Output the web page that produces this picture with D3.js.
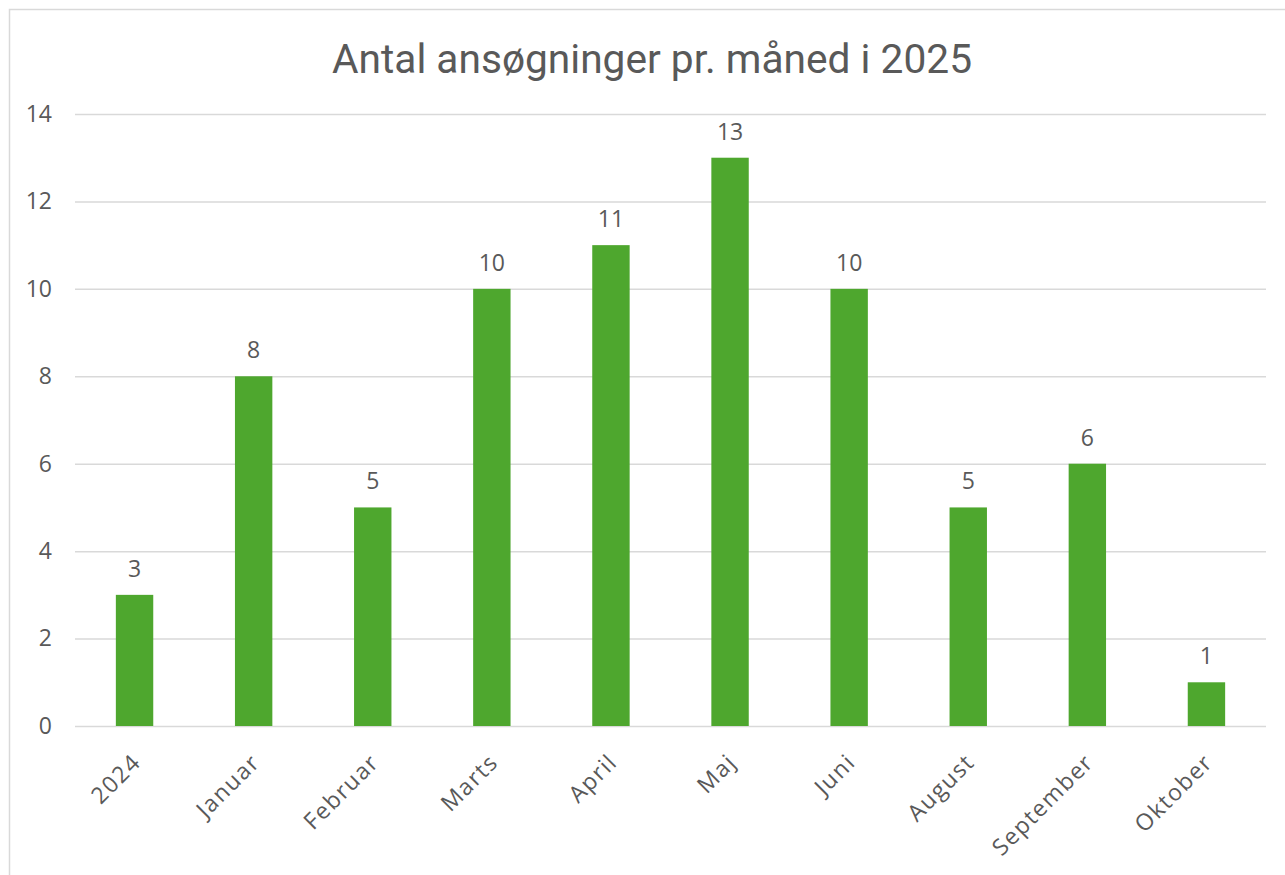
<!DOCTYPE html>
<html>
<head>
<meta charset="utf-8">
<script src="https://cdn.jsdelivr.net/npm/d3@7"></script>
<style>
  body { margin: 0; background: #fff; }
  #chart text { fill: #595959; }
</style>
</head>
<body>
<div id="chart"></div>
<script>
const months = ['2024', 'Januar', 'Februar', 'Marts', 'April', 'Maj', 'Juni', 'August', 'September', 'Oktober'];
const counts = [3, 8, 5, 10, 11, 13, 10, 5, 6, 1];
const yTicks = [0, 2, 4, 6, 8, 10, 12, 14];
const title = 'Antal ansøgninger pr. måned i 2025';

const data = months.map((m, i) => ({ month: m, count: counts[i] }));

function createBarChart() {
    const width = 1285;
    const height = 875;
    const margin = { top: 114, right: 19, bottom: 149, left: 75 };

    const usableArea = {
        top: margin.top,
        right: width - margin.right,
        bottom: height - margin.bottom,
        left: margin.left,
        width: width - margin.left - margin.right,
        height: height - margin.top - margin.bottom,
    };

    const svg = d3
        .select('#chart')
        .append('svg')
        .attr('width', width)
        .attr('height', height)
        .style('font-family', '"Open Sans", sans-serif');

    // chart frame (right and bottom edges run off the picture)
    svg.append('rect')
        .attr('x', 9.5)
        .attr('y', 9.5)
        .attr('width', 1300)
        .attr('height', 900)
        .attr('fill', 'none')
        .attr('stroke', '#d9d9d9')
        .attr('stroke-width', 1.5);

    const xScale = d3
        .scaleBand()
        .domain(months)
        .range([usableArea.left, usableArea.right])
        .paddingInner(0.686)
        .paddingOuter(0.343);

    const yScale = d3
        .scaleLinear()
        .domain([0, 14])
        .range([usableArea.bottom, usableArea.top]);

    // gridlines + y labels
    const yAxis = svg
        .append('g')
        .attr('class', 'y-axis')
        .attr('transform', `translate(${usableArea.left}, 0)`)
        .call(d3.axisLeft(yScale).tickValues(yTicks).tickSize(-usableArea.width).tickPadding(23));

    yAxis.select('.domain').remove();
    yAxis.selectAll('line').attr('stroke', '#d9d9d9').attr('stroke-width', 1.5);
    yAxis.selectAll('text').style('font-size', '23px').style('font-family', '"Open Sans", sans-serif');

    // bars
    svg.append('g')
        .attr('class', 'bars')
        .selectAll('rect')
        .data(data)
        .join('rect')
        .attr('x', (d) => xScale(d.month))
        .attr('y', (d) => yScale(d.count))
        .attr('width', xScale.bandwidth())
        .attr('height', (d) => yScale(0) - yScale(d.count))
        .attr('fill', '#4ea72e');

    // value labels
    svg.append('g')
        .attr('class', 'labels')
        .selectAll('text')
        .data(data)
        .join('text')
        .attr('x', (d) => xScale(d.month) + xScale.bandwidth() / 2)
        .attr('y', (d) => yScale(d.count) - 18)
        .attr('text-anchor', 'middle')
        .style('font-size', '23px')
        .text((d) => d.count);

    // month labels, rotated
    const xAxis = svg
        .append('g')
        .attr('class', 'x-axis')
        .attr('transform', `translate(0, ${usableArea.bottom})`)
        .call(d3.axisBottom(xScale).tickSize(0).tickPadding(0));

    xAxis.select('.domain').remove();
    xAxis.selectAll('text')
        .attr('y', 0)
        .attr('dy', '0.35em')
        .attr('text-anchor', 'end')
        .attr('transform', 'translate(2, 32) rotate(-45)')
        .style('font-size', '23px')
        .style('letter-spacing', '1.5px')
        .style('font-family', '"Open Sans", sans-serif');

    // title
    svg.append('text')
        .attr('x', 652)
        .attr('y', 73)
        .attr('text-anchor', 'middle')
        .attr('textLength', 640)
        .attr('lengthAdjust', 'spacingAndGlyphs')
        .style('font-family', '"Liberation Sans Narrow", "Roboto", sans-serif')
        .style('font-size', '40px')
        .text(title);
}

createBarChart();
</script>
</body>
</html>
